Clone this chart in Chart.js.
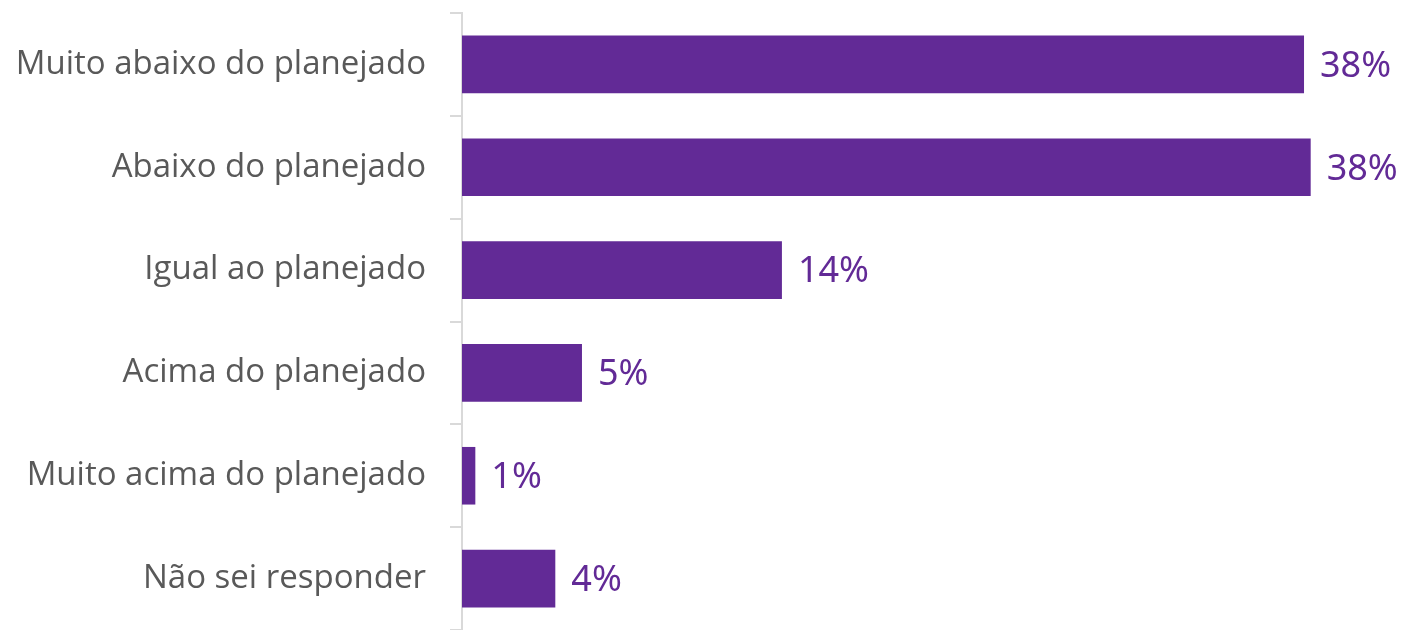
<!DOCTYPE html>
<html>
<head>
<meta charset="utf-8">
<script src="https://cdn.jsdelivr.net/npm/chart.js@4.4.1/dist/chart.umd.min.js"></script>
<style>
  html, body { margin: 0; padding: 0; background: #fff; }
  #wrap { width: 1404px; height: 630px; position: relative; }
</style>
</head>
<body>
<div id="wrap"><canvas id="barChart"></canvas></div>
<script>
// categories and values (percent)
const categories = ['Muito abaixo do planejado', 'Abaixo do planejado', 'Igual ao planejado', 'Acima do planejado', 'Muito acima do planejado', 'Não sei responder'];
const values = [37.9, 38.2, 14.4, 5.4, 0.6, 4.2];

const purple = '#622A96';

// draw the % labels at the end of each bar
const valueLabels = {
  id: 'valueLabels',
  afterDatasetsDraw(chart) {
    const ctx = chart.ctx;
    const meta = chart.getDatasetMeta(0);
    ctx.save();
    ctx.fillStyle = purple;
    ctx.font = '36px "Noto Sans"';
    ctx.textAlign = 'left';
    ctx.textBaseline = 'middle';
    meta.data.forEach(function(bar, i) {
      ctx.fillText(Math.round(values[i]) + '%', bar.x + 16, bar.y + 2);
    });
    ctx.restore();
  }
};

const ctx = document.getElementById('barChart').getContext('2d');
const barChart = new Chart(ctx, {
  type: 'bar',
  data: {
    labels: categories,
    datasets: [{
      data: values,
      backgroundColor: purple,
      barPercentage: 0.56,
      categoryPercentage: 1.0
    }]
  },
  options: {
    indexAxis: 'y',
    responsive: true,
    maintainAspectRatio: false,
    animation: false,
    plugins: {
      legend: { display: false },
      tooltip: { enabled: false }
    },
    layout: {
      padding: { top: 13, right: 0, bottom: 0, left: 0 }
    },
    scales: {
      x: {
        display: false,
        min: 0,
        max: 42.4
      },
      y: {
        afterFit: function(scale) {
          scale.width = 462; // keep axis line at x=462
          scale.paddingTop = 0; // no room for half label heights
          scale.paddingBottom = -3; // plot runs just past the bottom edge
        },
        grid: {
          drawOnChartArea: false,
          offset: true,
          tickLength: 12,
          color: '#d9d9d9',
          lineWidth: 2
        },
        border: { color: '#d9d9d9', width: 2 },
        ticks: {
          color: '#595959',
          padding: 24,
          font: { family: '"Open Sans"', size: 33 }
        }
      }
    }
  },
  plugins: [valueLabels]
});
</script>
</body>
</html>
